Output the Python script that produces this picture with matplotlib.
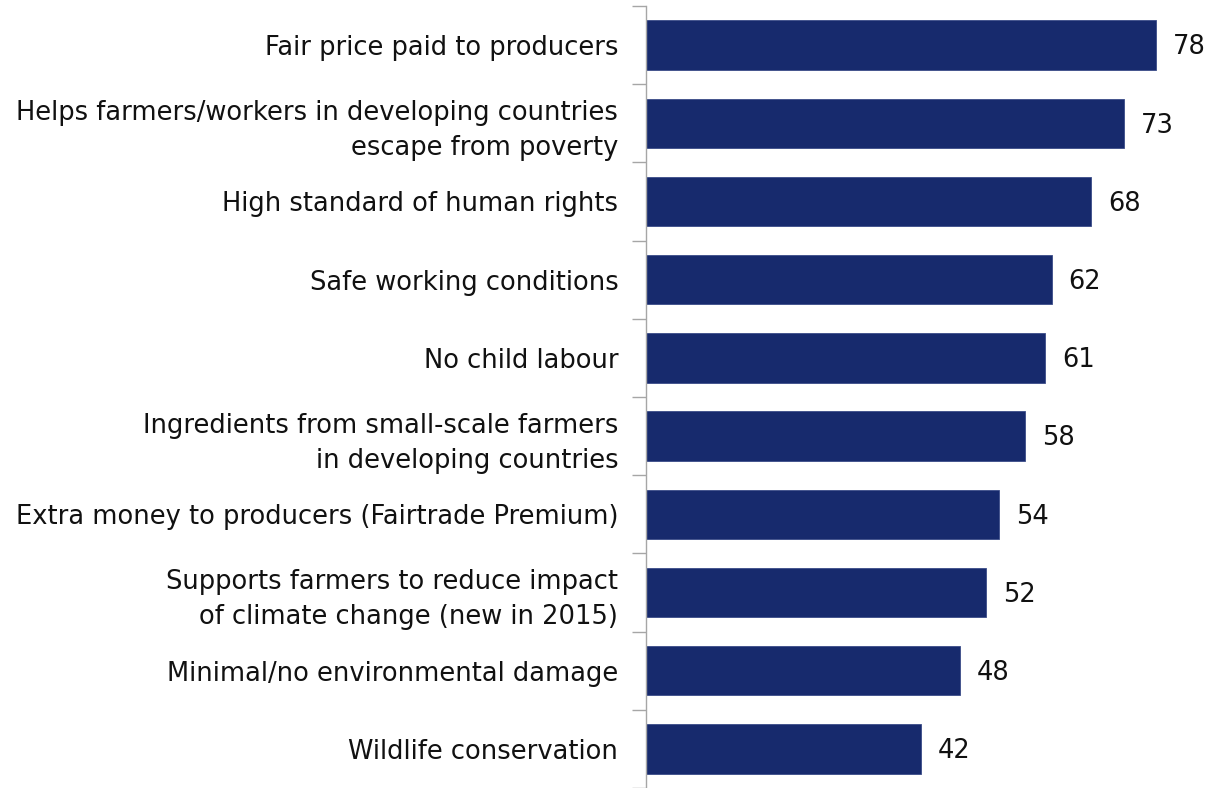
import matplotlib.pyplot as plt
import numpy as np

categories = [
    "Fair price paid to producers",
    "Helps farmers/workers in developing countries\nescape from poverty",
    "High standard of human rights",
    "Safe working conditions",
    "No child labour",
    "Ingredients from small-scale farmers\nin developing countries",
    "Extra money to producers (Fairtrade Premium)",
    "Supports farmers to reduce impact\nof climate change (new in 2015)",
    "Minimal/no environmental damage",
    "Wildlife conservation",
]
values = [78, 73, 68, 62, 61, 58, 54, 52, 48, 42]

bar_color = "#172a6d"
axis_gray = "#a6a6a6"
fsize = 18.5

fig = plt.figure(figsize=(12.06, 7.88), dpi=100)
ax = fig.add_axes([0.5357, 0.0, 0.4643, 0.9924])

y = np.arange(len(categories))
ax.barh(y, values, height=0.63, color=bar_color, edgecolor="#3a4c88", linewidth=0.6)

ax.set_ylim(len(categories) - 0.5, -0.5)
ax.set_xlim(0, 85.6)

for yi, v in zip(y, values):
    ax.text(v + 2.6, yi + 0.03, str(v), va="center", ha="left", fontsize=fsize, color="#111111")

# category labels on major ticks, boundary tick marks on minor ticks
ax.set_yticks(y)
ax.set_yticklabels(categories, fontsize=fsize, color="#111111", linespacing=1.45)
ax.set_yticks(np.arange(len(categories) + 1) - 0.5, minor=True)
ax.tick_params(axis="y", which="major", length=0, pad=20)
ax.tick_params(axis="y", which="minor", length=10, color=axis_gray, width=1)
ax.set_xticks([])

for side in ("top", "right", "bottom"):
    ax.spines[side].set_visible(False)
ax.spines["left"].set_color(axis_gray)
ax.spines["left"].set_linewidth(1)

fig.savefig("out.png", dpi=100)
